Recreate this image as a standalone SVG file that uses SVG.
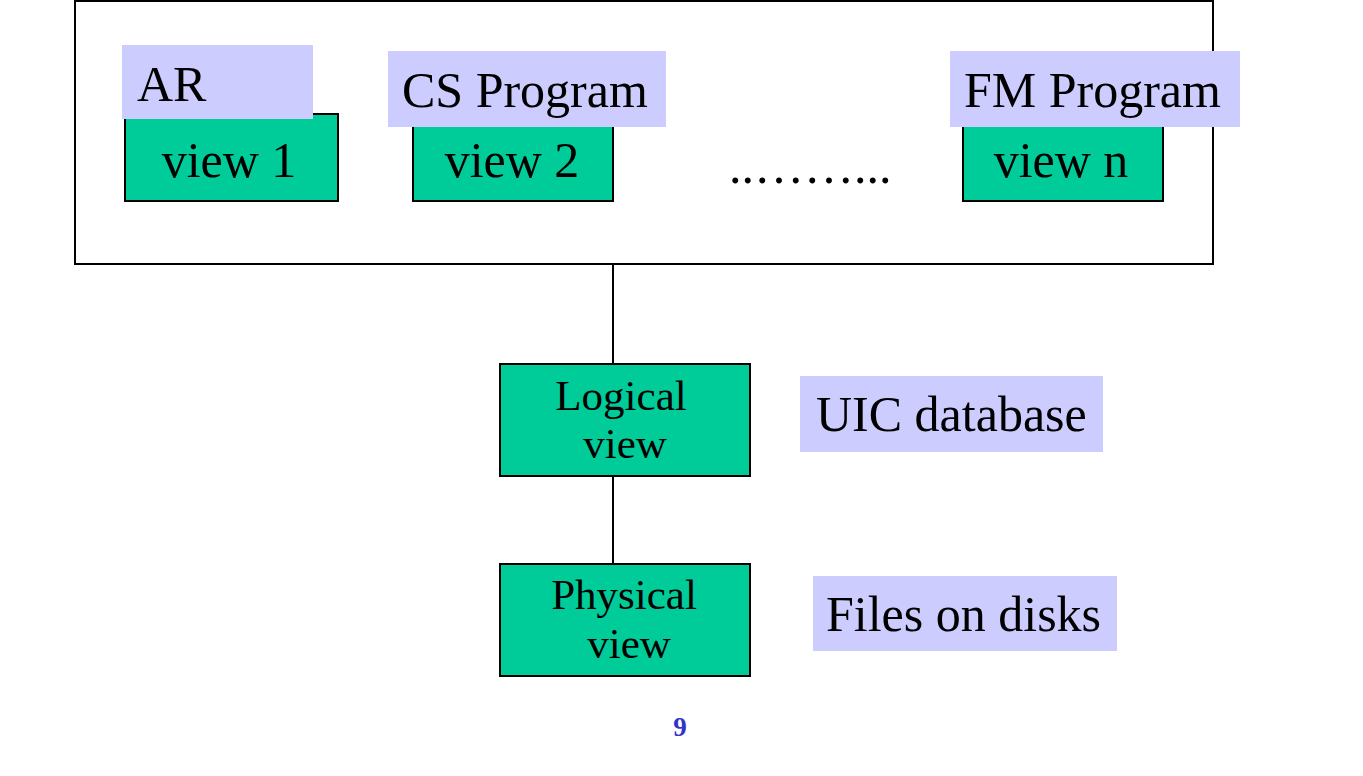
<svg xmlns="http://www.w3.org/2000/svg" width="1363" height="776" viewBox="0 0 1363 776">
<style>
.frame{fill:#ffffff;stroke:#000000;stroke-width:2}
.view{fill:#00cc99;stroke:#000000;stroke-width:2}
.label{fill:#ccccff;stroke:none}
.t{font-family:"Liberation Serif","Times New Roman",serif;fill:#000000}
.big{font-size:50px}
.mid{font-size:43px}
.conn{stroke:#000000;stroke-width:2;fill:none}
</style>
<rect width="1363" height="776" fill="#ffffff"/>
<g id="container">
<rect class="frame" x="75" y="1" width="1138" height="263"/>
</g>
<g id="connectors">
<line class="conn" x1="613" y1="264" x2="613" y2="364"/>
<line class="conn" x1="613" y1="476" x2="613" y2="564"/>
</g>
<g id="view1">
<rect class="view" x="125" y="114" width="213" height="87"/>
<text class="t big" x="229" y="177" text-anchor="middle">view 1</text>
</g>
<g id="label-ar">
<rect class="label" x="122" y="45" width="191" height="74"/>
<text class="t big" x="137" y="101">AR</text>
</g>
<g id="view2">
<rect class="view" x="413" y="114" width="200" height="87"/>
<text class="t big" x="512" y="177" text-anchor="middle">view 2</text>
</g>
<g id="label-cs">
<rect class="label" x="388" y="51" width="278" height="76"/>
<text class="t big" x="402" y="107">CS Program</text>
</g>
<g id="ellipsis">
<text class="t big" x="729" y="183">..……...</text>
</g>
<g id="viewn">
<rect class="view" x="963" y="114" width="200" height="87"/>
<text class="t big" x="1061" y="177" text-anchor="middle">view n</text>
</g>
<g id="label-fm">
<rect class="label" x="950" y="51" width="290" height="76"/>
<text class="t big" x="964" y="107">FM Program</text>
</g>
<g id="logical">
<rect class="view" x="500" y="364" width="250" height="112"/>
<text class="t mid" x="621" y="410" text-anchor="middle">Logical</text>
<text class="t mid" x="625" y="458" text-anchor="middle">view</text>
</g>
<g id="label-uic">
<rect class="label" x="800" y="376" width="303" height="76"/>
<text class="t big" x="816" y="431">UIC database</text>
</g>
<g id="physical">
<rect class="view" x="500" y="564" width="250" height="112"/>
<text class="t mid" x="624" y="609" text-anchor="middle">Physical</text>
<text class="t mid" x="629" y="658" text-anchor="middle">view</text>
</g>
<g id="label-files">
<rect class="label" x="813" y="576" width="304" height="75"/>
<text class="t big" x="826" y="631">Files on disks</text>
</g>
<g id="page-number">
<text class="t" x="680" y="736" text-anchor="middle" font-size="27" font-weight="bold" style="fill:#3333cc">9</text>
</g>
</svg>
